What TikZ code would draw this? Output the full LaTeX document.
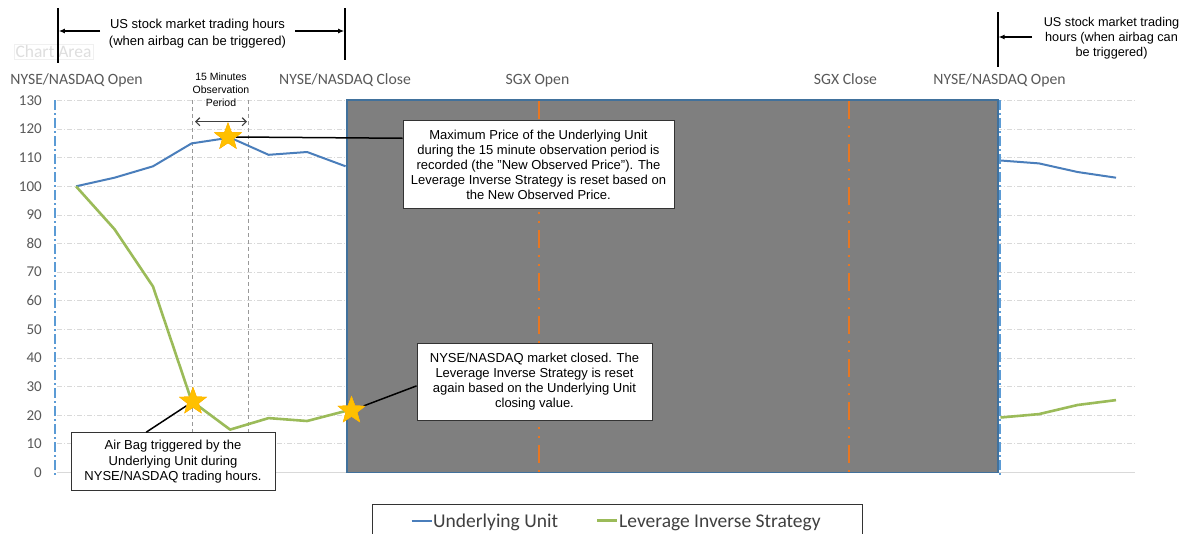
\documentclass[tikz,border=0pt]{standalone}
\usepackage{fontspec}
\setmainfont{Liberation Sans}
\newfontfamily\calfont{Carlito}
\usetikzlibrary{shapes.geometric,arrows.meta}
\definecolor{ublue}{HTML}{4A7EBB}
\definecolor{lgreen}{HTML}{9BBB59}
\definecolor{gold}{HTML}{FFC000}
\definecolor{boxgray}{HTML}{7F7F7F}
\definecolor{boxblue}{HTML}{41719C}
\definecolor{orng}{HTML}{E87722}
\definecolor{gridc}{HTML}{D9D9D9}
\definecolor{lblc}{HTML}{595959}
\definecolor{axblue}{HTML}{5B9BD5}
\tikzset{
  gridline/.style={gridc, line width=0.8pt, dash pattern=on 5pt off 2pt on 1pt off 2pt},
  ticklbl/.style={text=lblc, font=\calfont\fontsize{15}{15}\selectfont, inner sep=0pt, anchor=east},
  toplbl/.style={text=lblc, font=\calfont\fontsize{15.7}{15.7}\selectfont, inner sep=0pt, anchor=base},
  obsline/.style={black!40, line width=0.8pt, dash pattern=on 4pt off 3pt},
  axline/.style={axblue, line width=1.5pt, dash pattern=on 10pt off 3pt on 2pt off 3pt},
  sgxline/.style={orng, line width=2pt, dash pattern=on 18pt off 7pt on 2pt off 7pt on 2pt off 7pt},
  blueline/.style={ublue, line width=2pt, line join=round},
  greenline/.style={lgreen, line width=2.6pt, line join=round},
  starnode/.style={star, star points=5, star point ratio=2.4, minimum size=28pt, inner sep=0pt, fill=gold, draw=gold!85!orange, line width=0.5pt},
  callout/.style={draw=black!80, fill=white, line width=1pt, align=center, inner sep=2pt, font=\fontsize{13}{15}\selectfont},
  anno/.style={align=center, inner sep=0pt, font=\fontsize{13}{16.5}\selectfont},
  vline/.style={black, line width=1.6pt},
  arr/.style={black, line width=1.4pt, -{Latex[length=6pt,width=5pt]}},
  calline/.style={black, line width=1.5pt},
  legtext/.style={text=black!75, font=\calfont\fontsize{19.5}{19.5}\selectfont, inner sep=0pt, anchor=base west}
}
\begin{document}
\begin{tikzpicture}[x=1pt,y=-1pt]
\useasboundingbox (0,0) rectangle (1191,533);
\fill[white] (0,0) rectangle (1191,533);

% Chart Area ghost label
\node[text=black!13, draw=black!6, line width=0.6pt, inner sep=1.5pt, font=\calfont\fontsize{17.5}{17.5}\selectfont] (ca) at (53.5,51.5) {Chart Area};

% grid
\foreach \v in {10,20,...,130}
  \draw[gridline] (57,{472.5-2.862*\v}) -- (1135,{472.5-2.862*\v});
\draw[gridc, line width=1pt] (57,472.5) -- (1135,472.5);
\foreach \v in {0,10,...,130}
  \node[ticklbl] (t\v) at (42,{472.5-2.862*\v}) {\v};

% observation period lines
\draw[obsline] (192.7,100) -- (192.7,472);
\draw[obsline] (248,100) -- (248,472);

% axis line
\draw[axline] (55,100) -- (55,475);

% data lines
\draw[blueline] (76,186.3) -- (114.5,177.7) -- (153,166.3) -- (191.6,143.4) -- (230.1,137.6) -- (268.6,154.8) -- (307.1,152) -- (345.6,166.3);
\draw[greenline] (76,186.3) -- (114.5,229.2) -- (153,286.5) -- (191.6,401) -- (230.1,429.6) -- (268.6,418.1) -- (307.1,421) -- (345.6,411);
\draw[blueline] (1000.5,160.5) -- (1039,163.4) -- (1077.5,172) -- (1116,177.7);
\draw[greenline] (1000.5,417.5) -- (1039,414.1) -- (1077.5,405) -- (1116,400.1);

% closed market box
\draw[fill=boxgray, draw=boxblue, line width=1.8pt] (347,100) rectangle (998,472.5);
\draw[sgxline] (538.5,101) -- (538.5,471.5);
\draw[sgxline] (849,101) -- (849,471.5);
\draw[axline] (999.8,100) -- (999.8,475);

% top labels
\node[toplbl] (lopen) at (76.5,84) {NYSE/NASDAQ Open};
\node[toplbl] (lclose) at (345,84) {NYSE/NASDAQ Close};
\node[toplbl] (sopen) at (537.5,84) {SGX Open};
\node[toplbl] (sclose) at (845.5,84) {SGX Close};
\node[toplbl] (lopen2) at (999.5,84) {NYSE/NASDAQ Open};

% 15 minutes observation period
\node[align=center, inner sep=0pt, font=\fontsize{10.5}{13}\selectfont] (obs) at (221,89.5) {15 Minutes\\Observation\\Period};
\coordinate (oa) at (195,121.7);
\coordinate (ob) at (247,121.7);
\draw[black!75, line width=1.2pt, {Straight Barb[length=4pt,width=8pt]}-{Straight Barb[length=4pt,width=8pt]}] (oa) -- (ob);

% top annotations
\node[anno] (t1) at (197.5,33.5) {US stock market trading hours\\(when airbag can be triggered)};
\coordinate (v1t) at (58,8); \coordinate (v1b) at (58,63);
\coordinate (v2t) at (345,8); \coordinate (v2b) at (345,60);
\coordinate (v3t) at (997.7,12); \coordinate (v3b) at (997.7,67);
\draw[vline] (v1t) -- (v1b);
\draw[vline] (v2t) -- (v2b);
\draw[vline] (v3t) -- (v3b);
\coordinate (a1s) at (100,31); \coordinate (a1e) at (58.8,31);
\coordinate (a2s) at (295,31); \coordinate (a2e) at (344.2,31);
\coordinate (a3s) at (1032,37); \coordinate (a3e) at (998.5,37);
\draw[arr] (a1s) -- (a1e);
\draw[arr] (a2s) -- (a2e);
\draw[arr] (a3s) -- (a3e);
\node[anno, font=\fontsize{12.7}{15}\selectfont] (t2) at (1111.5,38) {US stock market trading\\hours (when airbag can\\be triggered)};

% callouts
\node[callout, minimum width=271pt, minimum height=87.3pt] (c1) at (538.5,164.4) {Maximum Price of the Underlying Unit\\during the 15 minute observation period is\\recorded (the "New Observed Price"). The\\Leverage Inverse Strategy is reset based on\\the New Observed Price.};
\node[callout, minimum width=235pt, minimum height=77.7pt] (c2) at (534.5,381.9) {NYSE/NASDAQ market closed. The\\Leverage Inverse Strategy is reset\\again based on the Underlying Unit\\closing value.};
\node[callout, minimum width=204pt, minimum height=58pt, font=\fontsize{13}{15.5}\selectfont] (c3) at (173,461.7) {Air Bag triggered by the\\Underlying Unit during\\NYSE/NASDAQ trading hours.};

% stars (positions)
\coordinate (p1) at (228,137);
\coordinate (p2) at (193,401.5);
\coordinate (p3) at (351.5,410.5);
\node[starnode] (s1) at (p1) {};
\node[starnode] (s2) at (p2) {};
\node[starnode] (s3) at (p3) {};

\draw[calline] (s1.east) -- ([yshift=-18pt]c1.north west);
\draw[calline] ([xshift=75.7pt]c3.north west) -- (s2);
\draw[calline] (s3) -- ([yshift=-4pt]c2.west);
\node[starnode] at (p1) {};
\node[starnode] at (p2) {};
\node[starnode] at (p3) {};

% legend
\coordinate (lg1) at (372.7,540); \coordinate (lg2) at (862,504); \coordinate (lg3) at (862,540);
\draw[black!80, line width=1pt] (lg1) |- (lg2) -- (lg3);
\coordinate (lb1) at (411.7,520.7); \coordinate (lb2) at (431.7,520.7);
\draw[blueline] (lb1) -- (lb2);
\node[legtext] (lt1) at (433,527) {Underlying Unit};
\coordinate (lg4) at (597,520.7); \coordinate (lg5) at (617,520.7);
\draw[greenline] (lg4) -- (lg5);
\node[legtext] (lt2) at (619,527) {Leverage Inverse Strategy};
\end{tikzpicture}
\end{document}
